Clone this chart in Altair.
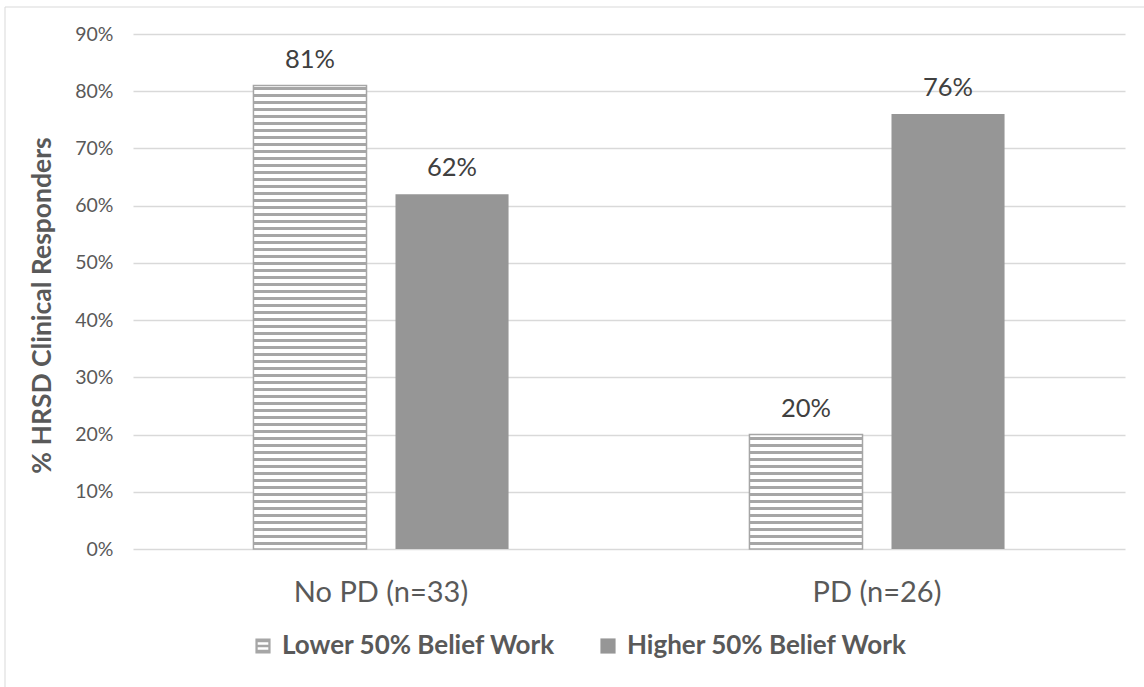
import altair as alt
import numpy as np
import pandas as pd

groups = ["No PD (n=33)", "PD (n=26)"]
series = ["Lower 50% Belief Work", "Higher 50% Belief Work"]
lower_vals = [0.81, 0.20]
higher_vals = [0.62, 0.76]
y_ticks = [0, 0.1, 0.2, 0.3, 0.4, 0.5, 0.6, 0.7, 0.8, 0.9]

rows = []
for g, lv, hv in zip(groups, lower_vals, higher_vals):
    rows.append({"group": g, "series": series[0], "value": lv})
    rows.append({"group": g, "series": series[1], "value": hv})
df = pd.DataFrame(rows)

# horizontal stripe pattern for the "Lower" bars (pattern derived from bar heights)
PERIOD = 0.01223
THICK = 0.0052
stripe_rows = []
for g, lv in zip(groups, lower_vals):
    for lo in np.arange(PERIOD - THICK, lv - THICK / 2, PERIOD):
        stripe_rows.append({"group": g, "series": series[0],
                            "lo": float(lo), "hi": float(min(lo + THICK, lv))})
stripes = pd.DataFrame(stripe_rows)

legend_df = pd.DataFrame({"series": series})

W, H = 992, 515
x_enc = alt.X("group:N", sort=groups, title=None,
              scale=alt.Scale(paddingInner=0, paddingOuter=0),
              axis=alt.Axis(labelFontSize=29, labelColor="#595959", labelFont="Lato",
                            labelPadding=43, labelBaseline="middle",
                            domain=False, ticks=False, labelAngle=0))
xoff = alt.XOffset("series:N", sort=series,
                   scale=alt.Scale(domain=series, paddingInner=0.204, paddingOuter=0.848))
y_scale = alt.Scale(domain=[0, 0.9], nice=False)

base = alt.Chart(df)

lower_bars = base.transform_filter(alt.datum.series == series[0]).mark_bar(
    fill="white", stroke="#a6a6a6", strokeWidth=1.5
).encode(
    x=x_enc, xOffset=xoff,
    y=alt.Y("value:Q", scale=y_scale, title="% HRSD Clinical Responders",
            axis=alt.Axis(values=y_ticks, format=".0%", labelFontSize=19.5,
                          labelColor="#595959", labelFont="Lato", labelPadding=20,
                          domain=False, ticks=False, gridColor="#d9d9d9",
                          gridWidth=1.3,
                          titleFontSize=26.5, titleFont="Lato", titleFontWeight="bold",
                          titleColor="#595959", titleX=-91, titleY=271,
                          titleAngle=270, titleAlign="center", titleBaseline="middle")),
)

stripe_layer = alt.Chart(stripes).mark_bar(color="#a6a6a6").encode(
    x=alt.X("group:N", sort=groups), xOffset=xoff,
    y=alt.Y("lo:Q", scale=y_scale), y2="hi:Q",
)

higher_bars = base.transform_filter(alt.datum.series == series[1]).mark_bar(
    color="#969696"
).encode(
    x=alt.X("group:N", sort=groups), xOffset=xoff,
    y=alt.Y("value:Q", scale=y_scale),
)

labels = base.mark_text(fontSize=25.5, font="Lato", color="#404040",
                        baseline="alphabetic", dy=-18).encode(
    x=alt.X("group:N", sort=groups), xOffset=xoff,
    y=alt.Y("value:Q", scale=y_scale),
    text=alt.Text("value:Q", format=".0%"),
)

stripe_path = ("M-1,-1H1V-0.5H-1Z M-1,-0.17H1V0.17H-1Z M-1,0.5H1V1H-1Z "
               "M-1,-1H-0.7V1H-1Z M0.7,-1H1V1H0.7Z")

# invisible points (drawn off-canvas) that only carry the legend
legend_layer = alt.Chart(legend_df).mark_point(filled=True, size=230, strokeWidth=0,
                                                opacity=1).encode(
    x=alt.value(-2000), y=alt.value(-2000),
    color=alt.Color("series:N", sort=series,
                    scale=alt.Scale(domain=series, range=["#a6a6a6", "#969696"]),
                    legend=alt.Legend(title=None, orient="none", legendX=117, legendY=599,
                                      direction="horizontal", columns=2,
                                      labelFontSize=26, labelFont="Lato",
                                      labelFontWeight="bold", labelColor="#595959",
                                      symbolSize=230, symbolOpacity=1,
                                      symbolStrokeWidth=0, labelOffset=6,
                                      columnPadding=39, labelLimit=400)),
    shape=alt.Shape("series:N", sort=series,
                    scale=alt.Scale(domain=series, range=[stripe_path, "square"]),
                    legend=alt.Legend(title=None)),
)

frame = alt.Chart(pd.DataFrame({"f": [0]})).mark_rect(
    fill=None, stroke="#d9d9d9", strokeWidth=1
).encode(
    x=alt.value(-128), x2=alt.value(1030), y=alt.value(-27), y2=alt.value(660)
)

chart = alt.layer(frame, lower_bars, stripe_layer, higher_bars, labels, legend_layer).properties(
    width=W, height=H,
    autosize=alt.AutoSizeParams(type="none"),
    padding={"left": 133, "top": 34, "right": 19, "bottom": 138},
    background="white",
).configure_view(stroke=None)

chart.save("out.html", embed_options={"renderer": "svg", "actions": False})
